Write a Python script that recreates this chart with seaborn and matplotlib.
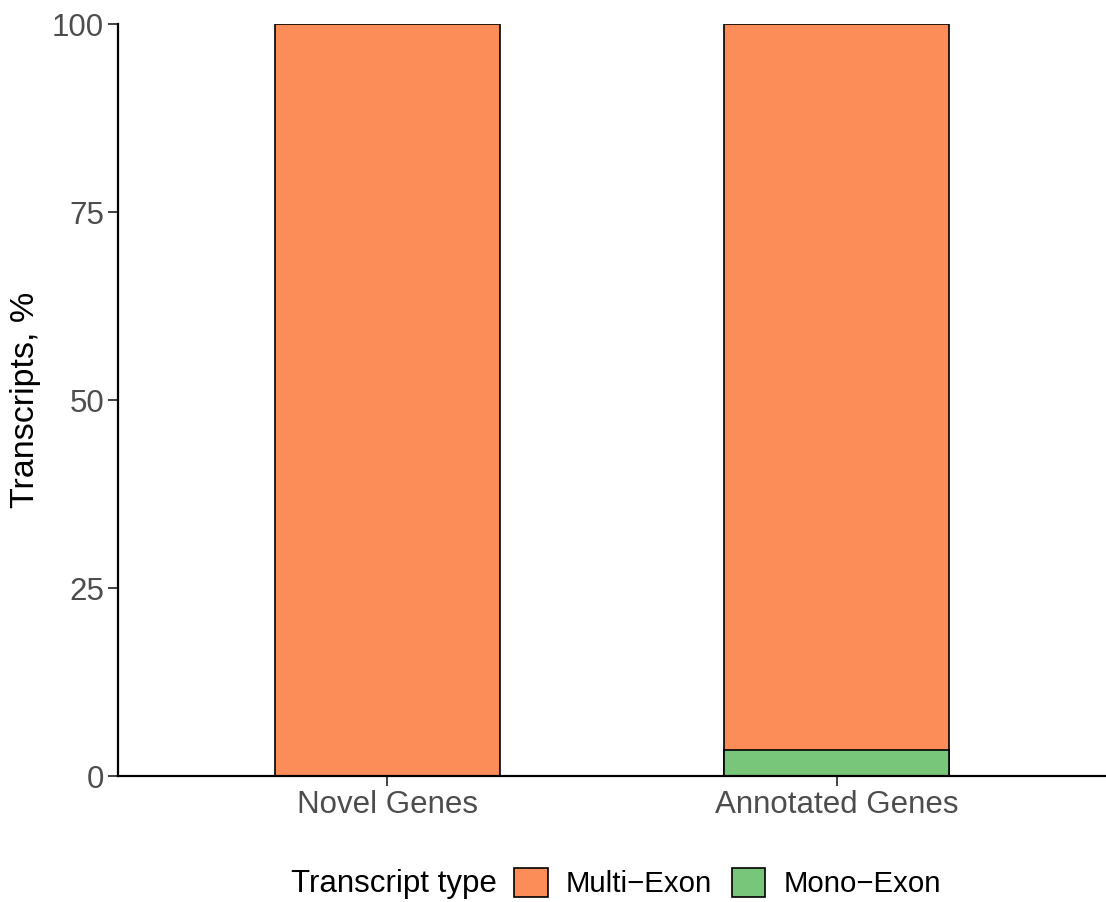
import matplotlib
matplotlib.use('Agg')
import matplotlib.pyplot as plt
from matplotlib.patches import Patch
import seaborn as sns
import pandas as pd

# data
groups = ['Novel Genes', 'Annotated Genes']
multi_exon = [100.0, 96.5]
mono_exon = [0.0, 3.5]
types = ['Multi\u2212Exon', 'Mono\u2212Exon']
colors = {'Multi\u2212Exon': '#FC8D59', 'Mono\u2212Exon': '#78C679'}

df = pd.DataFrame({'group': groups, 'multi': multi_exon, 'mono': mono_exon})
df['total'] = df['multi'] + df['mono']

sns.set_theme(style='white')
plt.rcParams['font.family'] = ['Liberation Sans', 'DejaVu Sans']

fig = plt.figure(figsize=(11.06, 9.02), dpi=100)
ax = fig.add_axes([118 / 1106, 126 / 902, 988 / 1106, 752 / 902])

# stacked bars: total in orange, mono-exon drawn on top from the bottom
sns.barplot(data=df, x='group', y='total', color=colors[types[0]], width=0.5,
            edgecolor='black', linewidth=1.2, saturation=1, ax=ax)
sns.barplot(data=df, x='group', y='mono', color=colors[types[1]], width=0.5,
            edgecolor='black', linewidth=1.2, saturation=1, ax=ax)

ax.set_xlim(-0.6, 1.6)
ax.set_ylim(0, 100)
ax.set_yticks([0, 25, 50, 75, 100])
ax.set_xlabel('')
ax.set_ylabel('Transcripts, %', fontsize=24.5, color='black', labelpad=8)
ax.tick_params(axis='both', labelsize=22.5, labelcolor='#4D4D4D', color='#333333',
               length=7, width=1.3, left=True, bottom=True, pad=3)
sns.despine(ax=ax)
for s in ['left', 'bottom']:
    ax.spines[s].set_color('black')
    ax.spines[s].set_linewidth(1.6)
    ax.spines[s].set_clip_on(False)

# legend along the bottom with title on the left
handles = [Patch(facecolor=colors[t], edgecolor='black', linewidth=1.2) for t in types]
fig.text(497 / 1106, 1 - 884 / 902, 'Transcript type', fontsize=22.5, ha='right', va='center',
         color='black')
fig.legend(handles, types, loc='center left', bbox_to_anchor=(514 / 1106, 1 - 883 / 902),
           ncol=2, frameon=False, fontsize=21.2, handlelength=1.15, handleheight=1.15,
           handletextpad=0.62, columnspacing=0.65, borderaxespad=0, borderpad=0,
           labelcolor='black')

fig.savefig('out.png', dpi=100)
